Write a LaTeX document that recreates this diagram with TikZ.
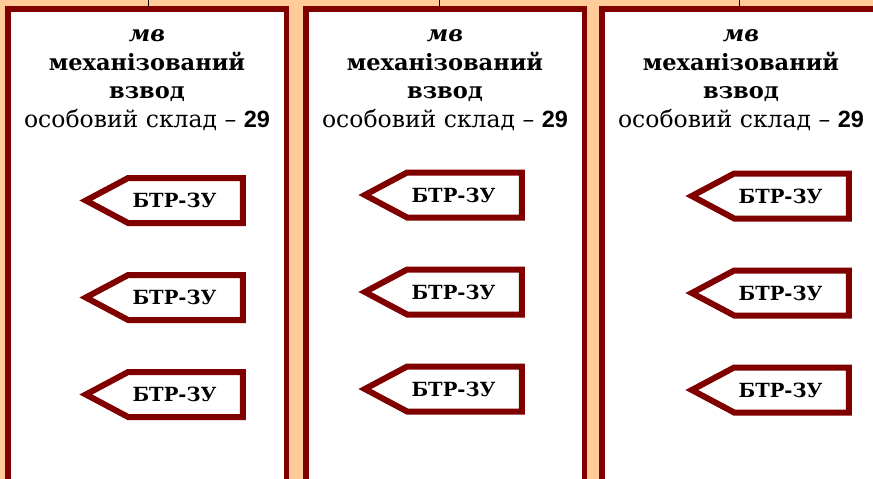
\documentclass[tikz,border=0pt]{standalone}
\usepackage{fontspec}
\setmainfont{DejaVu Serif}
\newfontfamily\arialfont{Liberation Sans}
\usepackage{tikz}
\usetikzlibrary{positioning,shapes.symbols}
\definecolor{darkred}{RGB}{128,0,0}
\definecolor{peach}{RGB}{255,204,153}
\newcommand{\platoontext}{{\bfseries\itshape мв}\\\textbf{механізований}\\\textbf{взвод}\\
  {\fontsize{23.5}{28.5}\selectfont особовий склад – {\arialfont\bfseries 29}}}

\begin{document}
\begin{tikzpicture}[x=1pt, y=-1pt,
  platoon/.style={draw=darkred, line width=5.5pt, fill=white, anchor=north west,
    minimum width=278.5pt, minimum height=520pt, inner sep=0pt},
  heading/.style={align=center, anchor=north, font=\fontsize{22.5}{28.5}\selectfont},
  vehicle/.style={signal, signal to=west, signal pointer angle=56, draw=darkred,
    line width=6pt, fill=white, minimum width=157pt, minimum height=45pt,
    font=\fontsize{19.5}{21}\selectfont\bfseries, inner sep=0pt,
    execute at end node={\hspace*{22pt}}},
  link/.style={draw=black, line width=0.8pt},
]
  \useasboundingbox (0,0) rectangle (873,479);
  \fill[peach] (0,0) rectangle (873,479);
  \clip (0,0) rectangle (873,479);

  % three platoons
  \node[platoon] (plt1) at (5,6) {};
  \node[platoon] (plt2) at (303,6) {};
  \node[platoon] (plt3) at (599,6) {};

  \coordinate (top1) at (148,0);
  \coordinate (top2) at (439,0);
  \coordinate (top3) at (739,0);
  \draw[link] (top1) -- (top1 |- plt1.north);
  \draw[link] (top2) -- (top2 |- plt2.north);
  \draw[link] (top3) -- (top3 |- plt3.north);

  \node[heading] (head1) at ([yshift=-20pt]plt1.north) {\platoontext};
  \node[heading] (head2) at ([yshift=-20pt]plt2.north) {\platoontext};
  \node[heading] (head3) at ([yshift=-20pt]plt3.north) {\platoontext};

  % vehicles
  \node[vehicle] (btr11) at (185.5,200.5) {БТР-ЗУ};
  \node[vehicle, below=46pt of btr11] (btr12) {БТР-ЗУ};
  \node[vehicle, below=46pt of btr12] (btr13) {БТР-ЗУ};

  \node[vehicle] (btr21) at (464.5,195) {БТР-ЗУ};
  \node[vehicle, below=46pt of btr21] (btr22) {БТР-ЗУ};
  \node[vehicle, below=46pt of btr22] (btr23) {БТР-ЗУ};

  \node[vehicle] (btr31) at (791.5,196) {БТР-ЗУ};
  \node[vehicle, below=46pt of btr31] (btr32) {БТР-ЗУ};
  \node[vehicle, below=46pt of btr32] (btr33) {БТР-ЗУ};
\end{tikzpicture}
\end{document}
